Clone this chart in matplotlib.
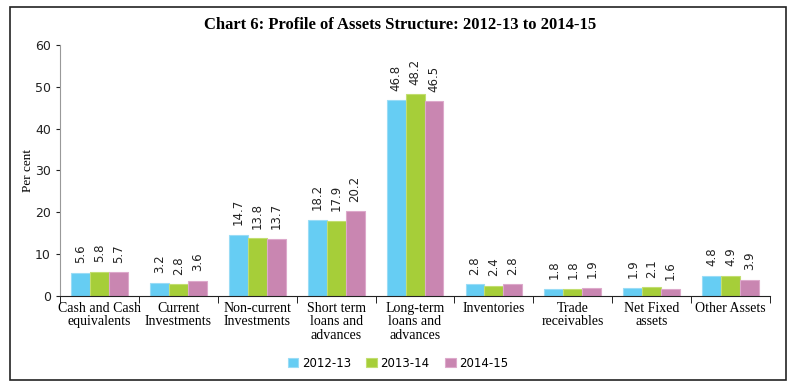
import numpy as np
import matplotlib.pyplot as plt
from matplotlib.patches import Rectangle

categories = ['Cash and Cash\nequivalents', 'Current\nInvestments', 'Non-current\nInvestments',
              'Short term\nloans and\nadvances', 'Long-term\nloans and\nadvances', 'Inventories',
              'Trade\nreceivables', 'Net Fixed\nassets', 'Other Assets']
years = ['2012-13', '2013-14', '2014-15']
v2012 = [5.6, 3.2, 14.7, 18.2, 46.8, 2.8, 1.8, 1.9, 4.8]
v2013 = [5.8, 2.8, 13.8, 17.9, 48.2, 2.4, 1.8, 2.1, 4.9]
v2014 = [5.7, 3.6, 13.7, 20.2, 46.5, 2.8, 1.9, 1.6, 3.9]
colors = ['#66CDF3', '#A6CE39', '#C986B1']
edges = ['#9ADCF6', '#C2DE70', '#DDA9CB']
serif = 'Liberation Serif'

fig = plt.figure(figsize=(7.96, 3.87), dpi=100)
ax = fig.add_axes([0.0754, 0.235, 0.892, 0.649])

x = np.arange(len(categories))
w = 0.24
for i, (vals, c, e) in enumerate(zip([v2012, v2013, v2014], colors, edges)):
    pos = x + (i - 1) * w
    ax.bar(pos, vals, w, color=c, edgecolor=e, linewidth=0.8, label=years[i])
    for p, v in zip(pos, vals):
        ax.text(p, v + 2.3, f'{v:.1f}', rotation=90, ha='center', va='bottom',
                fontsize=8.5, color='#222222')

ax.set_xlim(-0.5, len(categories) - 0.5)
ax.set_ylim(0, 60)
ax.set_yticks(range(0, 61, 10))
ax.tick_params(axis='y', labelsize=9, length=3, colors='#222222')
ax.set_xticks(x)
ax.set_xticklabels(categories, family=serif, fontsize=10, linespacing=1.05)
ax.tick_params(axis='x', length=0, pad=4)
ax.set_xticks(np.arange(-0.5, len(categories), 1), minor=True)
ax.tick_params(axis='x', which='minor', length=5, direction='out')
for s in ['top', 'right']:
    ax.spines[s].set_visible(False)
ax.spines['left'].set_color('#999999')
ax.spines['bottom'].set_color('#222222')
ax.set_ylabel('Per cent', family=serif, fontsize=9.5)
ax.yaxis.set_label_coords(-0.037, 0.5)

fig.suptitle('Chart 6: Profile of Assets Structure: 2012-13 to 2014-15', family=serif,
             fontweight='bold', fontsize=12, x=0.503, y=0.955)
fig.legend(loc='center', bbox_to_anchor=(0.5, 0.062), ncol=3, frameon=False, fontsize=8.5,
           handlelength=0.9, handleheight=0.9, columnspacing=1.3, handletextpad=0.3)

fig.add_artist(Rectangle((10 / 796, 7 / 387), 776 / 796, 373 / 387, transform=fig.transFigure,
                         fill=False, edgecolor='#222222', linewidth=1.2))
fig.savefig('out.png', dpi=100)
